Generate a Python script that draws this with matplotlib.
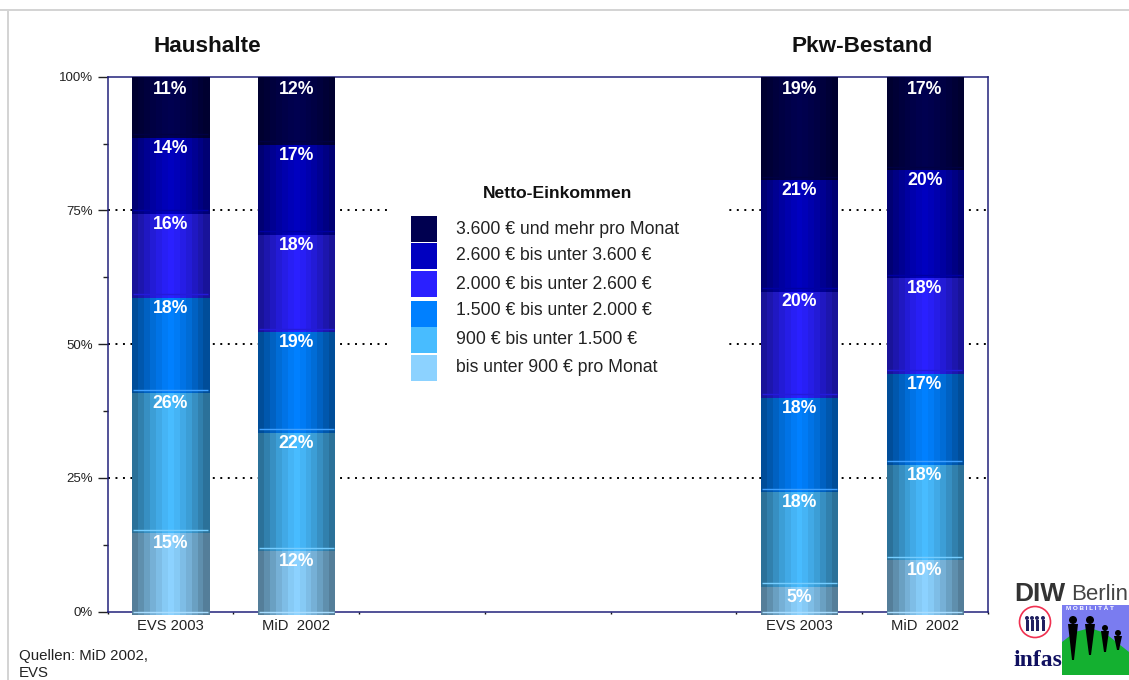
import numpy as np
import matplotlib
matplotlib.use('Agg')
import matplotlib.pyplot as plt
from matplotlib.patches import Rectangle, Ellipse, Polygon
from matplotlib.transforms import ScaledTranslation

plt.rcParams['font.family'] = ['Liberation Sans', 'DejaVu Sans']

# data, bottom segment first
categories = ['EVS 2003', 'MiD  2002', '', '', '', 'EVS 2003', 'MiD  2002']
bar_slots = [0, 1, 5, 6]
income_1 = [15.3, 12.0, 5.3, 10.3]    # bis unter 900
income_2 = [26.2, 22.1, 17.7, 17.8]   # 900 - 1500
income_3 = [17.8, 18.8, 17.6, 17.0]   # 1500 - 2000
income_4 = [15.7, 18.2, 19.9, 17.9]   # 2000 - 2600
income_5 = [14.2, 16.8, 20.8, 20.2]   # 2600 - 3600
income_6 = [10.8, 12.1, 18.7, 16.8]   # 3600 und mehr
segments = [income_1, income_2, income_3, income_4, income_5, income_6]
colors = ['#8cd2ff', '#48bcff', '#0080ff', '#2a20ff', '#0000c0', '#000050']
legend_labels = ['3.600 € und mehr pro Monat', '2.600 € bis unter 3.600 €',
                 '2.000 € bis unter 2.600 €', '1.500 € bis unter 2.000 €',
                 '900 € bis unter 1.500 €', 'bis unter 900 € pro Monat']
legend_colors = colors[::-1]
legend_y = [216, 243, 271, 301, 327, 355]
legend_text_y = [229, 256, 284, 311, 340, 367]
y_ticks = [0, 25, 50, 75, 100]
y_minor = [12.5, 37.5, 62.5, 87.5]

W, H = 1129, 680
fig = plt.figure(figsize=(W / 100, H / 100), dpi=100)
ax = fig.add_axes([107.7 / W, (H - 611.7) / H, 880 / W, 535 / H])
ax.set_xlim(0, 7)
ax.set_ylim(0, 100)


def hex_rgb(c):
    return np.array(matplotlib.colors.to_rgb(c))


def px_rect(x, y, w, h, color, z=5):
    # rectangle given in picture pixels, y from the top
    fig.patches.append(Rectangle((x / W, 1 - (y + h) / H), w / W, h / H, transform=fig.transFigure,
                                 facecolor=color, edgecolor='none', zorder=z))


def px_text(x, y, s, **kw):
    fig.text(x / W, 1 - y / H, s, va='center', **kw)


def px_poly(pts, color, z=6):
    fig.patches.append(Polygon([(x / W, 1 - y / H) for x, y in pts], transform=fig.transFigure,
                               facecolor=color, edgecolor='none', zorder=z))


def px_ellipse(x, y, w, h, face, edge='none', z=6, lw=1.2):
    fig.patches.append(Ellipse((x / W, 1 - y / H), w / W, h / H, transform=fig.transFigure,
                               facecolor=face, edgecolor=edge, lw=lw, zorder=z))


# grid behind the bars
for t in [25, 50, 75]:
    ax.axhline(t, color='black', lw=1.4, dashes=(1.0, 2.85), zorder=1)

# legend sits on a white box, it hides the grid
ax.add_patch(Rectangle((2.22, 42), 2.71, 38, facecolor='white', edgecolor='none', zorder=1.5))

shade = [0.6, 0.68, 0.76, 0.84, 0.9, 0.96, 1.0, 0.96, 0.9, 0.84, 0.76, 0.68, 0.6]
bar_w = 0.612
shift = 0.65   # segments hang a bit below their real edge
n = len(shade)
for b, slot in enumerate(bar_slots):
    x0 = slot + 0.5 - bar_w / 2 + 0.003
    bottom = 0
    for s, seg in enumerate(segments):
        val = seg[b]
        rgb = hex_rgb(colors[s])
        h = val + shift
        for k in range(n):
            ax.bar(x0 + k * bar_w / n, h, width=bar_w / n * 1.05, bottom=bottom - shift, align='edge',
                   color=rgb * shade[k], linewidth=0, zorder=2 + s * 0.1, clip_on=False, antialiased=False)
        # light line at the real lower edge
        line_col = rgb * 0.75 + 0.25
        if s > 2:
            line_col = rgb * 0.85
        ax.plot([x0 + 0.005, x0 + bar_w - 0.01], [bottom, bottom], color=line_col, lw=1.0,
                zorder=2.05 + s * 0.1, clip_on=False, solid_capstyle='butt')
        top = bottom + val
        label_y = top - 2.6 if s < 5 else 97.6
        ax.text(slot + 0.5, label_y, '%d%%' % round(val), color='white', fontweight='bold', fontsize=12.7,
                ha='center', va='center', zorder=4)
        bottom = top

# axes
navy = '#22227a'
for side in ax.spines:
    ax.spines[side].set_color(navy)
    ax.spines[side].set_linewidth(1.1)
    ax.spines[side].set_zorder(1.8)
ax.set_yticks(y_ticks)
ax.set_yticklabels(['%d%%' % t for t in y_ticks], fontsize=9.5, color='#222222')
up = ScaledTranslation(0, 1.5 / 72, fig.dpi_scale_trans)
for lab in ax.get_yticklabels():
    lab.set_transform(lab.get_transform() + up)
ax.set_yticks(y_minor, minor=True)
ax.tick_params(axis='y', which='major', length=7.5, width=1, color='#222222', pad=3)
ax.tick_params(axis='y', which='minor', length=3.5, width=1, color='#222222')
ax.set_xticks(np.arange(8))
ax.set_xticklabels([])
ax.tick_params(axis='x', which='major', length=1.5, width=1, color='#111111', direction='out')
ax.set_xticks(np.arange(7) + 0.5, minor=True)
ax.set_xticklabels(categories, minor=True, fontsize=10.6, color='#222222')
ax.tick_params(axis='x', which='minor', length=0, pad=5)

# titles
px_text(207, 46, 'Haushalte', fontsize=16.2, fontweight='bold', ha='center', color='#111111')
px_text(862, 46, 'Pkw-Bestand', fontsize=16.2, fontweight='bold', ha='center', color='#111111')

# legend
px_text(558, 194, 'Netto-Einkommen', fontsize=12.6, fontweight='bold', ha='center', color='#111111')
for lab, col, y, ty in zip(legend_labels, legend_colors, legend_y, legend_text_y):
    px_rect(411, y, 26, 26, col)
    px_text(456, ty, lab, fontsize=12.7, ha='left', color='#222222')

# source
px_text(19, 656, 'Quellen: MiD 2002,', fontsize=10.8, ha='left', color='#222222')
px_text(19, 673, 'EVS', fontsize=10.8, ha='left', color='#222222')

# page frame
px_rect(0, 9, W, 2, '#d4d4d4', z=0)
px_rect(7, 9, 2, H - 9, '#d4d4d4', z=0)

# logos
px_text(1014, 594, 'DIW', fontsize=19, fontweight='bold', ha='left', color='#333333', zorder=7)
px_text(1071, 594, 'Berlin', fontsize=16, ha='left', color='#444444', zorder=7)
px_ellipse(1035, 622, 31, 31, 'white', edge='#f03050')
for px in [1027, 1032, 1037, 1043]:
    px_ellipse(px, 618, 4, 4, '#202060', z=7)
    px_rect(px - 1.5, 620, 3, 11, '#202060', z=7)
px_text(1013, 661, 'infas', fontsize=17, fontweight='bold', ha='left', color='#101060',
        fontfamily='Liberation Serif', zorder=7)
px_rect(1062, 605, 67, 70, '#7a7cf0')
px_poly([(1062, 675), (1062, 642), (1075, 632), (1090, 628), (1105, 633), (1129, 652), (1129, 675)], '#14b030', z=5.5)
px_text(1066, 609, 'M O B I L I T Ä T', fontsize=4.5, fontweight='bold', ha='left', color='white', zorder=7)
figures = [(1073, 620, 4, 660), (1090, 620, 4, 655), (1105, 628, 3, 652), (1118, 633, 3, 650)]
for fx, fy, fr, foot in figures:
    px_ellipse(fx, fy, 2 * fr, 2 * fr, 'black')
    px_poly([(fx - fr - 1, fy + fr), (fx + fr + 1, fy + fr), (fx + 1, foot), (fx - 1, foot)], 'black')

fig.savefig('out.png', dpi=100)
